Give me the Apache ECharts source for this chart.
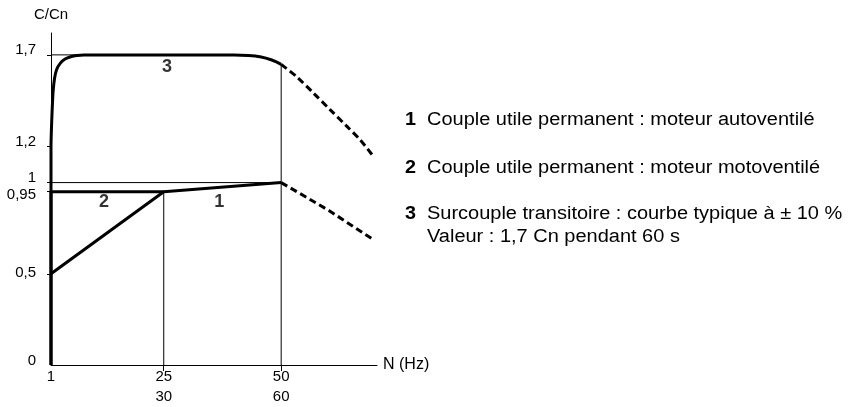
<!DOCTYPE html>
<html><head><meta charset="utf-8">
<script src="https://cdn.jsdelivr.net/npm/echarts@6/dist/echarts.min.js"></script>
<style>html,body{margin:0;padding:0;background:#fff}#c{width:855px;height:407px}</style>
</head><body><div id="c"></div>
<script>
// ---- data ----
const xTickValues = [1, 25, 50];
const xTickLabels = ['1', '25\n30', '50\n60'];
const yTickValues = [0, 0.5, 0.95, 1, 1.2, 1.7];
const yTickLabels = ['0', '0,5', '0,95', '1', '1,2', '1,7'];
const curve1 = [[1, 0.5], [25, 0.95], [50, 1.0]];
const curve1Ext = [[50, 1.0], [55, 0.925], [60.4, 0.843], [65, 0.765], [69.5, 0.689]];
const curve2 = [[1, 0], [1, 0.95], [25, 0.95]];
const curve3 = [[1, 0], [1, 1.2], [1.1, 1.3], [1.25, 1.4], [1.45, 1.5], [1.75, 1.57], [2.2, 1.62], [3, 1.655], [4, 1.677], [5.2, 1.69], [6.5, 1.697], [8, 1.7], [40, 1.7], [43, 1.697], [45.5, 1.69], [48, 1.672], [50, 1.648]];
const curve3Ext = [[50, 1.648], [53.3, 1.58], [56.9, 1.49], [60.4, 1.40], [64, 1.308], [66.8, 1.235], [69.5, 1.148]];
const refLines = [
  [[1, 1.7], [40, 1.7]],
  [[1, 1.0], [50, 1.0]],
  [[25, 0], [25, 0.95]],
  [[50, 0], [50, 1.648]]
];
const curveTags = [['3', 25.7, 1.631], ['2', 12.3, 0.891], ['1', 36.8, 0.891]];
const legendNums = ['1', '2', '3', ''];
const legendTexts = [
  'Couple utile permanent : moteur autoventilé',
  'Couple utile permanent : moteur motoventilé',
  'Surcouple transitoire : courbe typique à ± 10 %',
  'Valeur : 1,7 Cn pendant 60 s'
];

// ---- styles ----
const FONT = '"Liberation Sans", Arial, Helvetica, sans-serif';
const yLabelShift = { '0': -4, '0,5': -1, '0,95': 3, '1': -5, '1,2': -4, '1,7': -5 };
const legendY = [120, 168, 214, 237];

const rich = {};
yTickLabels.forEach((t, i) => {
  const s = yLabelShift[t] || 0;
  rich['l' + i] = { fontSize: 15, fontFamily: FONT, color: '#000',
    padding: s < 0 ? [0, 0, -2 * s, 0] : [2 * s, 0, 0, 0] };
});

const thick = { color: '#000', width: 3, join: 'round', cap: 'butt' };
const dashed = { color: '#000', width: 3, type: [7, 4], join: 'round', cap: 'butt' };
function lineSeries(data, style, smooth) {
  return { type: 'line', data, symbol: 'none', smooth: smooth || false, lineStyle: style,
    silent: true, z: 3, clip: false, animation: false };
}

const series = [];
refLines.forEach(d => series.push(Object.assign(lineSeries(d, { color: '#000', width: 1 }), { z: 2 })));
series.push(lineSeries(curve2, thick));
series.push(lineSeries(curve1, thick));
series.push(lineSeries(curve1Ext, dashed));
series.push(lineSeries(curve3, thick, 0.2));
series.push(lineSeries(curve3Ext, dashed, 0.3));
series.push({
  type: 'scatter', symbolSize: 0, silent: true, animation: false,
  data: curveTags.map(t => [t[1], t[2], t[0]]),
  label: { show: true, position: 'inside', formatter: p => p.value[2],
    fontSize: 18, fontWeight: 'bold', fontFamily: FONT, color: '#000' }
});

const graphic = [];
legendTexts.forEach((t, i) => {
  if (legendNums[i]) graphic.push({ type: 'text', x: 405, y: legendY[i], scaleX: 1.1,
    style: { text: legendNums[i], fontSize: 18, fontWeight: 'bold', fontFamily: FONT, fill: '#000', verticalAlign: 'middle' } });
  graphic.push({ type: 'text', x: 427, y: legendY[i], scaleX: 1.11,
    style: { text: t, fontSize: 18, fontFamily: FONT, fill: '#000', verticalAlign: 'middle' } });
});

const chart = echarts.init(document.getElementById('c'), null, { renderer: 'canvas' });
chart.setOption({
  animation: false,
  backgroundColor: '#fff',
  grid: { left: 51, right: 478, top: 33, bottom: 41, containLabel: false },
  xAxis: {
    type: 'value', min: 1, max: 70.4,
    name: 'N (Hz)', nameLocation: 'end', nameGap: 6,
    nameTextStyle: { fontSize: 16, fontFamily: FONT, color: '#000' },
    axisLine: { show: true, onZero: false, lineStyle: { color: '#000', width: 1 } },
    axisTick: { show: true, customValues: [25, 50], length: 6, lineStyle: { color: '#000', width: 1 } },
    axisLabel: { show: true, customValues: xTickValues, margin: 2,
      formatter: v => xTickLabels[xTickValues.indexOf(v)],
      fontSize: 15, lineHeight: 20, fontFamily: FONT, color: '#000' },
    splitLine: { show: false }
  },
  yAxis: {
    type: 'value', min: 0, max: 1.82,
    name: 'C/Cn', nameLocation: 'end', nameGap: 11,
    nameTextStyle: { fontSize: 15, fontFamily: FONT, color: '#000', align: 'center' },
    axisLine: { show: true, onZero: false, lineStyle: { color: '#000', width: 1 } },
    axisTick: { show: true, customValues: [0.5, 0.95, 1, 1.2, 1.7], length: 4, lineStyle: { color: '#000', width: 1 } },
    axisLabel: { show: true, customValues: yTickValues, margin: 15,
      formatter: v => { const i = yTickValues.indexOf(v); return '{l' + i + '|' + yTickLabels[i] + '}'; },
      rich },
    splitLine: { show: false }
  },
  series,
  graphic
});
</script></body></html>
